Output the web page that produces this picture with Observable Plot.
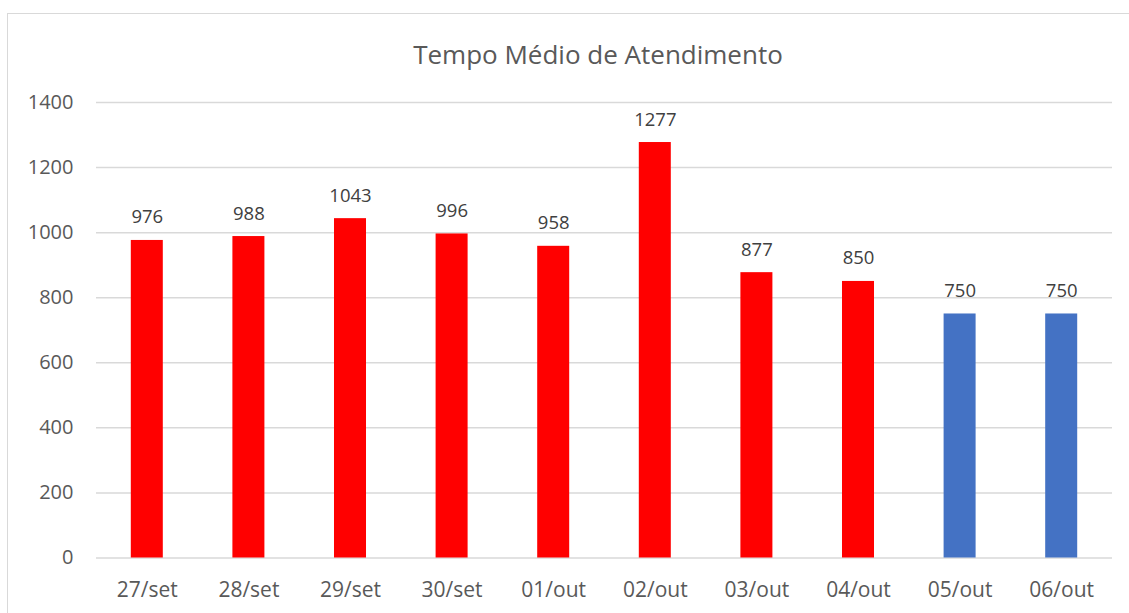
<!DOCTYPE html>
<html>
<head>
<meta charset="utf-8">
<script src="https://cdn.jsdelivr.net/npm/d3@7"></script>
<script src="https://cdn.jsdelivr.net/npm/@observablehq/plot@0.6"></script>
<style>
  html, body { margin: 0; padding: 0; background: #fff; }
  #wrap { position: relative; width: 1129px; height: 613px; overflow: hidden; font-family: "Open Sans", sans-serif; }
  #border { position: absolute; left: 7px; top: 13px; width: 1200px; height: 700px; border: 1px solid #d9d9d9; box-sizing: border-box; }
  #title { position: absolute; left: 0; width: 1196px; top: 37px; text-align: center; font-size: 26px; color: #595959; line-height: 34px; }
  #chart { position: absolute; left: 0; top: 0; }
</style>
</head>
<body>
<div id="wrap">
  <div id="border"></div>
  <div id="chart"></div>
  <div id="title">Tempo Médio de Atendimento</div>
</div>
<script>
const categories = ["27/set","28/set","29/set","30/set","01/out","02/out","03/out","04/out","05/out","06/out"];
const values = [976, 988, 1043, 996, 958, 1277, 877, 850, 750, 750];
const kinds = ["real","real","real","real","real","real","real","real","meta","meta"];
const yTicks = [0, 200, 400, 600, 800, 1000, 1200, 1400];

const data = categories.map((c, i) => ({cat: c, value: values[i], kind: kinds[i]}));

const chart = Plot.plot({
  width: 1129,
  height: 613,
  marginTop: 102,
  marginBottom: 55.5,
  marginLeft: 96,
  marginRight: 17,
  style: {fontFamily: "Open Sans, sans-serif", color: "#595959", background: "transparent", overflow: "visible"},
  x: {domain: categories, paddingInner: 0.685, paddingOuter: 0.3425, round: false, label: null},
  y: {domain: [0, 1400], label: null},
  color: {domain: ["real", "meta"], range: ["#FF0000", "#4472C4"]},
  marks: [
    Plot.gridY(yTicks, {stroke: "#d9d9d9", strokeOpacity: 1, strokeWidth: 1.5}),
    Plot.barY(data, {x: "cat", y: "value", fill: "kind"}),
    Plot.text(data, {x: "cat", y: "value", text: d => String(d.value), lineAnchor: "bottom", dy: -17, fontSize: 18.5, fill: "#404040"}),
    Plot.axisY(yTicks, {tickSize: 0, tickPadding: 23, fontSize: 20, label: null, fill: "#595959", tickFormat: d => String(d)}),
    Plot.axisX({tickSize: 0, tickPadding: 24, fontSize: 21, label: null, fill: "#595959"})
  ]
});
document.getElementById("chart").appendChild(chart);
</script>
</body>
</html>
